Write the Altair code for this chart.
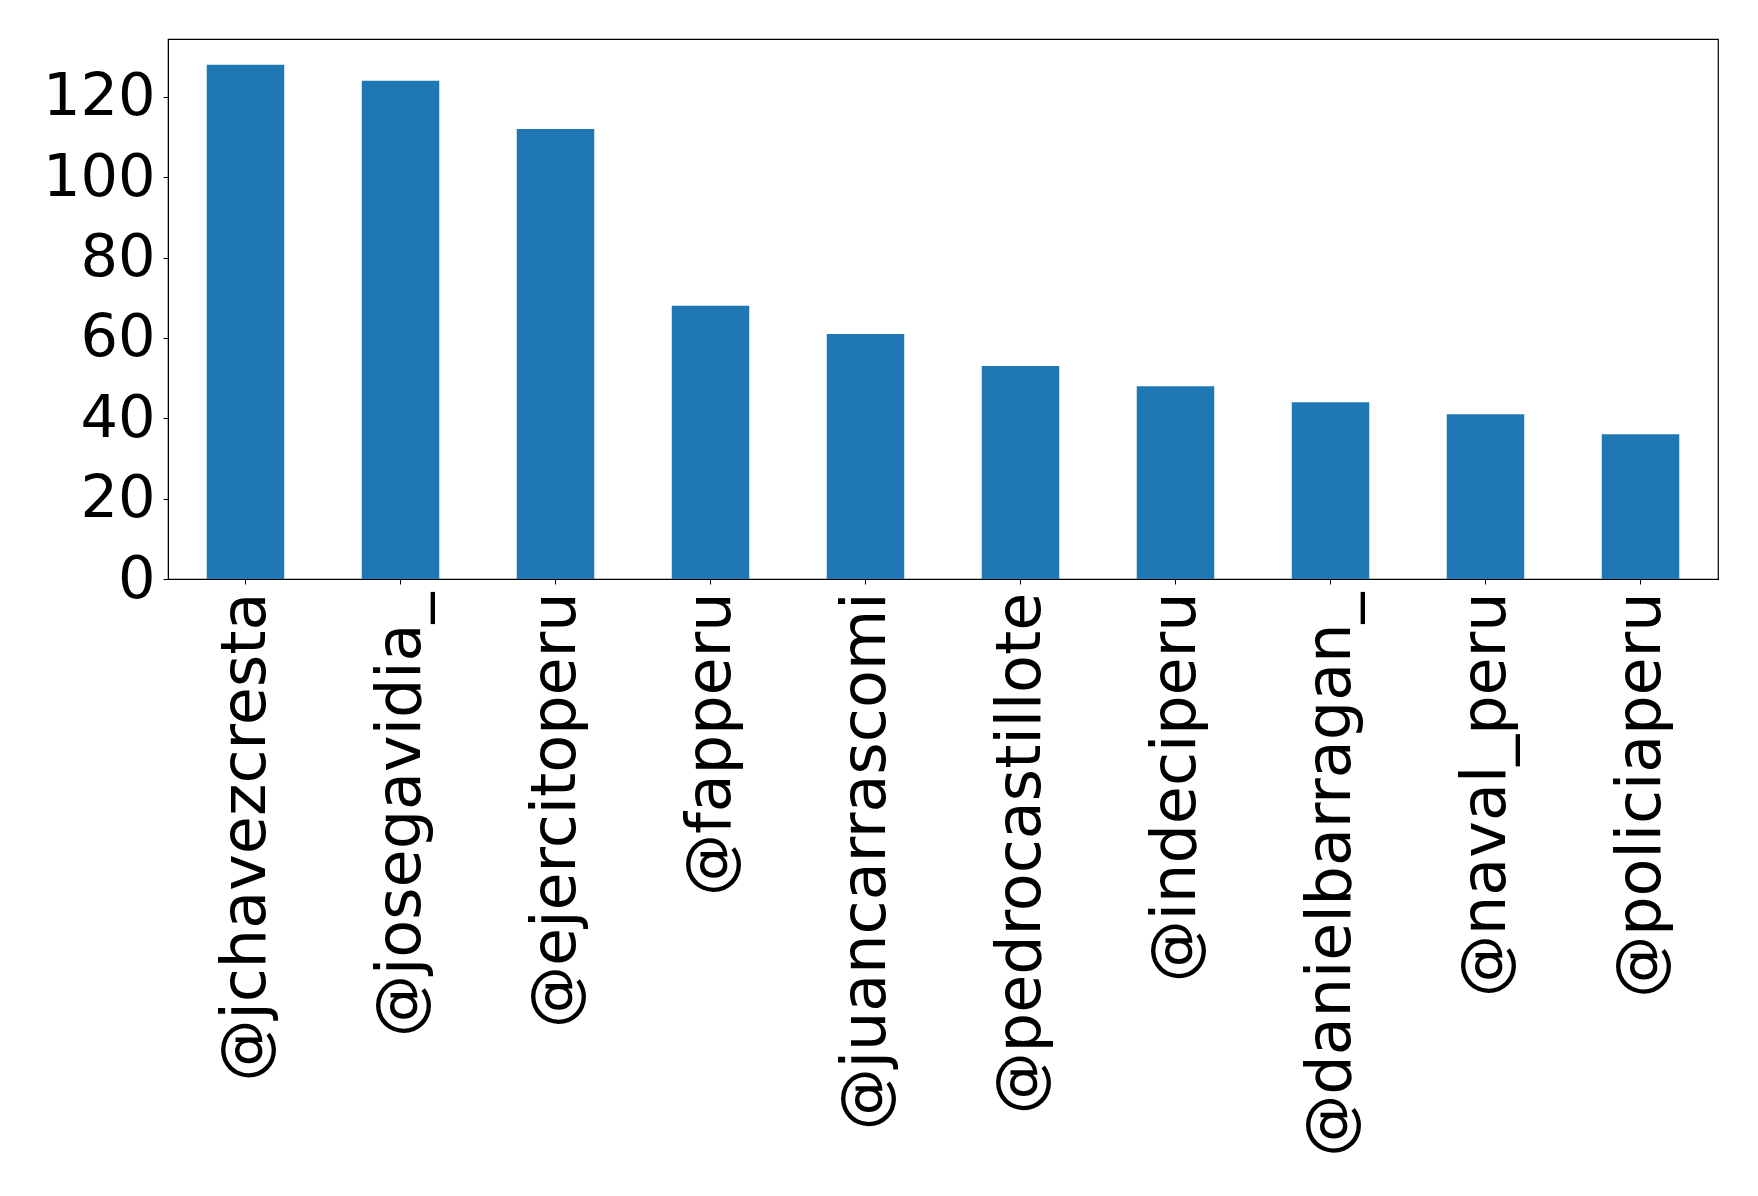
import altair as alt
import pandas as pd

accounts = ["@jchavezcresta", "@josegavidia_", "@ejercitoperu", "@fapperu",
            "@juancarrascomi", "@pedrocastillote", "@indeciperu",
            "@danielbarragan_", "@naval_peru", "@policiaperu"]
counts = [128, 124, 112, 68, 61, 53, 48, 44, 41, 36]
y_ticks = [0, 20, 40, 60, 80, 100, 120]

df = pd.DataFrame({"account": accounts, "count": counts})

FONT = "DejaVu Sans"

chart = alt.Chart(df).mark_bar(color="#1f77b4").encode(
    x=alt.X("account:N", sort=accounts, title=None,
            scale=alt.Scale(paddingInner=0.5, paddingOuter=0.25),
            axis=alt.Axis(labelAngle=-90, labelAlign="right", labelBaseline="middle",
                          labelFont=FONT, labelFontSize=62, labelColor="black",
                          labelLimit=0, labelOverlap=False,
                          tickColor="black", tickSize=5, labelPadding=8,
                          domainColor="black", grid=False)),
    y=alt.Y("count:Q", title=None,
            scale=alt.Scale(domain=[0, 134.4], nice=False, zero=True),
            axis=alt.Axis(values=y_ticks, labelFont=FONT, labelFontSize=59,
                          labelColor="black", tickColor="black", tickSize=5,
                          labelPadding=8, domainColor="black", grid=False,
                          labelFlush=False, labelOverlap=False)),
).properties(
    width=1550, height=540,
    padding={"left": 34, "top": 31, "right": 10, "bottom": 10},
).configure(background="white").configure_view(
    stroke="black", strokeWidth=1.2
)

chart.save("out.html", embed_options={"renderer": "svg", "actions": False})
